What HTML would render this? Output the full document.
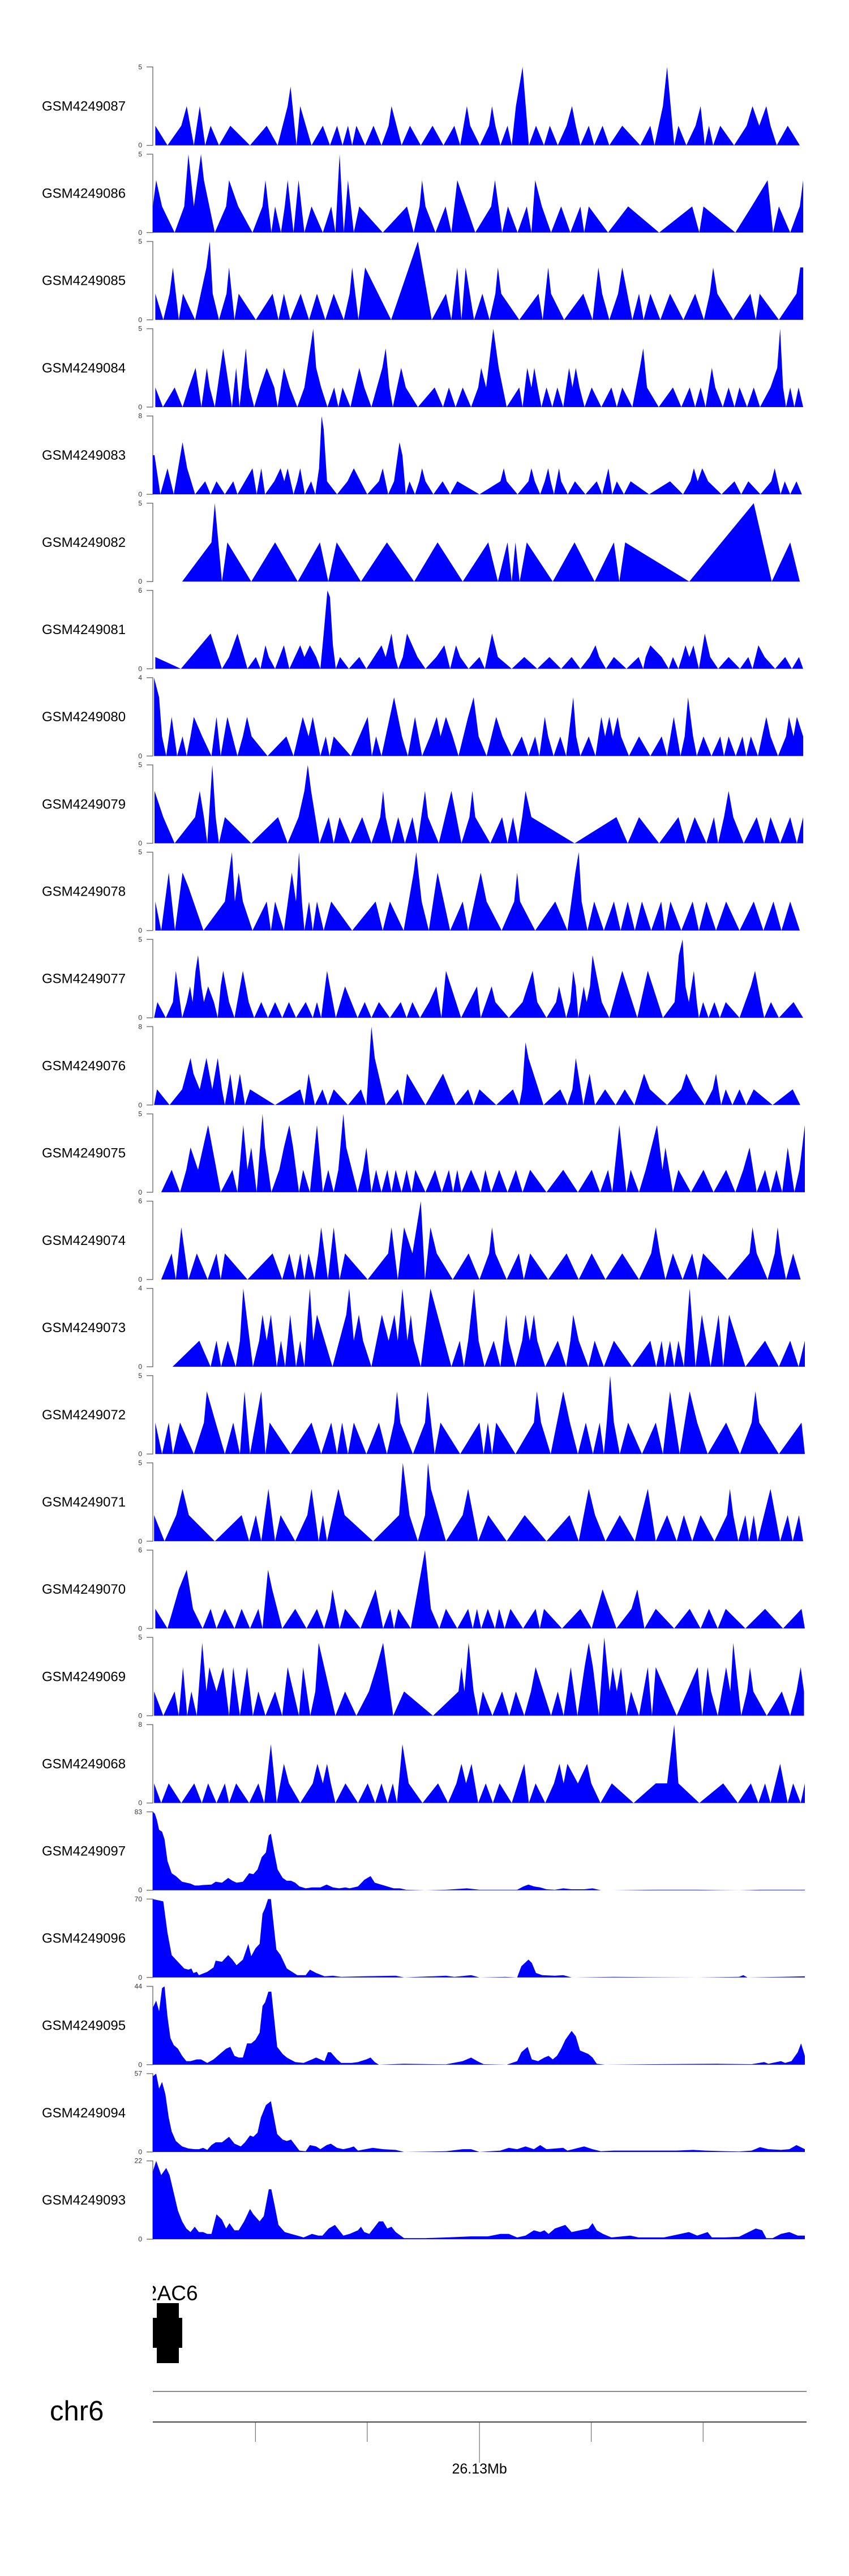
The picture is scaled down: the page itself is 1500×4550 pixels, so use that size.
<!DOCTYPE html>
<html><head><meta charset="utf-8"><title>Coverage tracks chr6</title>
<style>
html,body{margin:0;padding:0;background:#fff;}
svg{display:block;font-family:"Liberation Sans",sans-serif;}
</style></head>
<body>
<svg id="chart" width="1500" height="4550" viewBox="0 0 1500 4550" xmlns="http://www.w3.org/2000/svg">
<defs><clipPath id="plotclip"><rect x="270" y="0" width="1160" height="4550"/></clipPath></defs>
<g id="tracks"></g>
<g id="gene-track" clip-path="url(#plotclip)">
  <text x="257" y="4063" font-size="37" fill="#000">2AC6</text>
  <rect x="277" y="4068" width="39" height="106" fill="#000"/>
  <rect x="270" y="4094" width="52" height="53" fill="#000"/>
</g>
<g id="ideogram">
  <text x="88" y="4275" font-size="49" fill="#000">chr6</text>
  <line x1="270" y1="4224" x2="1425" y2="4224" stroke="#666" stroke-width="1.5"/>
  <line x1="270" y1="4278" x2="1425" y2="4278" stroke="#444" stroke-width="2"/>
  <g id="gticks"></g>
</g>
</svg>
<script>
const sampleNames = ["GSM4249087","GSM4249086","GSM4249085","GSM4249084","GSM4249083","GSM4249082","GSM4249081","GSM4249080","GSM4249079","GSM4249078","GSM4249077","GSM4249076","GSM4249075","GSM4249074","GSM4249073","GSM4249072","GSM4249071","GSM4249070","GSM4249069","GSM4249068","GSM4249097","GSM4249096","GSM4249095","GSM4249094","GSM4249093"];
const axisMax = [5,5,5,5,8,5,6,4,5,5,5,8,5,6,4,5,5,6,5,8,83,70,44,57,22];
const levelUnit = [1.25,1.67,1.67,1.25,1.33,2.5,0.9,1.0,1.67,1.85,1.0,1.6,1.43,2.0,1.33,2.0,1.67,1.5,1.55,2.0,1,1,1,1,1];
const genomeTickLabels = ["","","26.13Mb","",""];
const genomeTickPos = [245,512,780,1047,1314];

const t01=[6,1,35,0,68,1,81,2,98,0,112,2,125,0,138,1,158,0,185,1,232,0,272,1,298,0,322,2,329,3,343,0,352,2,379,0,406,1,423,0,440,1,453,0,466,1,476,0,486,1,507,0,527,1,546,0,563,1,570,2,594,0,614,1,640,0,668,1,694,0,720,1,734,0,750,2,758,1,781,0,803,1,810,2,818,1,830,0,847,1,857,0,867,2,883,4,898,0,915,1,934,0,948,1,967,0,988,1,1001,2,1010,1,1021,0,1041,1,1054,0,1074,1,1090,0,1121,1,1164,0,1188,1,1198,0,1218,2,1228,4,1245,0,1255,1,1274,0,1296,1,1308,2,1318,0,1328,1,1338,0,1355,1,1388,0,1418,1,1432,2,1448,1,1465,2,1475,1,1490,0,1516,1,1545,0];
const t02=[0,1,8,2,22,1,52,0,75,1,85,3,98,1,115,3,122,2,148,0,175,1,182,2,204,1,238,0,262,1,269,2,283,0,292,1,306,0,315,1,322,2,336,0,348,2,362,0,379,1,406,0,426,1,436,0,446,3,456,0,466,2,480,0,493,1,549,0,607,1,623,0,637,1,643,2,651,1,675,0,699,1,713,0,727,2,770,0,808,1,817,2,834,0,848,1,871,0,893,1,904,0,913,2,929,1,951,0,975,1,997,0,1021,1,1030,0,1041,1,1087,0,1135,1,1209,0,1288,1,1305,0,1315,1,1391,0,1430,1,1468,2,1481,0,1495,1,1522,0,1545,1,1553,2];
const t03=[6,1,25,0,40,1,48,2,62,0,72,1,101,0,128,2,136,3,143,1,158,0,176,1,182,2,195,0,205,1,246,0,286,1,300,0,313,1,328,0,353,1,373,0,392,1,412,0,432,1,456,0,470,1,476,2,491,0,507,2,569,0,633,3,666,0,700,1,713,0,727,2,737,0,747,2,767,0,787,1,804,0,818,1,824,2,832,1,875,0,921,1,931,0,944,2,951,1,982,0,1028,1,1050,0,1064,2,1073,1,1090,0,1111,1,1121,2,1145,0,1161,1,1172,0,1188,1,1212,0,1235,1,1267,0,1295,1,1316,0,1330,1,1338,2,1348,1,1386,0,1427,1,1440,0,1449,1,1495,0,1537,1,1546,2,1553,2];
const t04=[6,1,24,0,52,1,71,0,86,1,102,2,116,0,129,2,136,1,148,0,168,3,189,0,199,2,207,0,222,3,230,1,242,0,256,1,272,2,290,1,298,0,313,2,327,1,345,0,362,1,383,4,390,2,402,1,417,0,433,1,443,0,453,1,472,0,493,2,505,1,522,0,548,2,556,3,565,1,573,0,593,2,604,1,633,0,673,1,693,0,707,1,723,0,740,1,760,0,777,1,784,2,796,1,813,4,826,2,845,0,875,1,883,0,894,2,904,1,911,2,919,1,928,0,940,1,954,0,966,1,980,0,994,2,1002,1,1010,2,1019,1,1031,0,1048,1,1071,0,1095,1,1108,0,1121,1,1145,0,1163,2,1171,3,1180,1,1208,0,1242,1,1262,0,1282,1,1295,0,1308,1,1320,0,1335,2,1343,1,1361,0,1375,1,1389,0,1401,1,1419,0,1435,1,1450,0,1475,1,1491,2,1498,4,1505,1,1512,0,1522,1,1532,0,1542,1,1553,0];
const t05=[0,3,4,3,18,0,35,2,50,0,71,4,82,2,101,0,125,1,138,0,152,1,172,0,192,1,202,0,220,1,238,2,248,0,259,2,268,0,290,1,305,2,314,1,322,2,336,0,345,1,352,2,363,0,378,1,388,0,397,2,403,6,408,5,416,1,440,0,465,1,480,2,512,0,540,1,549,2,562,0,576,1,589,4,596,3,604,0,613,1,626,0,636,1,643,2,651,1,670,0,692,1,710,0,727,1,780,0,830,1,838,2,845,1,871,0,897,1,904,2,912,1,925,0,936,1,944,2,950,1,958,0,964,1,970,2,975,1,991,0,1008,1,1033,0,1060,1,1073,0,1088,2,1097,0,1108,1,1125,0,1141,1,1185,0,1235,1,1266,0,1284,1,1292,2,1301,1,1312,2,1326,1,1358,0,1389,1,1405,0,1422,1,1451,0,1477,1,1485,2,1499,0,1509,1,1522,0,1537,1,1550,0];
const t06=[70,0,140,1,148,2,165,0,178,1,235,0,292,1,346,0,399,1,419,0,439,1,497,0,559,1,624,0,680,1,740,0,801,1,824,0,847,1,857,0,866,1,876,0,893,1,955,0,1007,1,1055,0,1101,1,1114,0,1128,1,1281,0,1435,2,1478,0,1522,1,1545,0];
const t07=[6,1,67,0,138,3,165,0,182,1,202,3,226,0,246,1,257,0,269,2,277,1,292,0,313,2,326,0,352,2,362,1,375,2,390,1,400,0,408,3,417,6.7,423,6.1,430,2,437,0,447,1,468,0,493,1,510,0,528,1,546,2,556,1,570,3,578,1,586,0,597,1,607,3,632,1,651,0,677,1,696,2,710,0,724,2,734,1,754,0,780,1,793,0,810,3,824,1,857,0,887,1,918,0,947,1,975,0,1000,1,1021,0,1043,1,1057,2,1066,1,1082,0,1101,1,1131,0,1160,1,1171,0,1177,1,1188,2,1215,1,1232,0,1242,1,1255,0,1264,1,1272,2,1281,1,1291,2,1304,0,1318,3,1331,1,1350,0,1375,1,1402,0,1422,1,1432,0,1446,2,1461,1,1486,0,1510,1,1526,0,1543,1,1553,0];
const t08=[3,4,15,3,22,1,32,0,45,2,58,0,71,1,81,0,90,1,98,2,118,1,140,0,152,2,162,0,178,2,202,0,215,1,225,2,236,1,274,0,319,1,336,0,358,2,372,1,382,2,400,0,413,1,422,0,432,1,473,0,513,2,523,0,533,1,546,0,576,3,595,1,609,0,626,2,643,0,662,1,678,2,687,1,700,2,716,1,730,0,753,2,766,3,778,1,797,0,820,2,835,1,857,0,881,1,897,0,913,1,923,0,936,2,944,1,957,0,973,1,987,0,1004,3,1011,1,1021,0,1041,1,1057,0,1071,2,1080,1,1090,2,1099,1,1110,2,1118,1,1137,0,1161,1,1188,0,1215,1,1228,0,1244,2,1260,0,1270,1,1278,3,1290,1,1299,0,1315,1,1334,0,1355,1,1364,0,1375,1,1392,0,1408,1,1417,0,1428,1,1445,0,1465,2,1475,1,1493,0,1512,1,1519,2,1530,1,1538,2,1553,1];
const t09=[4,2,25,1,52,0,101,1,112,2,122,1,130,0,142,3,150,1,158,0,172,1,235,0,299,1,322,0,348,1,362,2,370,3,378,2,398,0,420,1,432,0,446,1,472,0,500,1,522,0,543,1,550,2,556,1,570,0,586,1,602,0,620,1,632,0,650,2,657,1,683,0,713,2,737,0,756,1,763,2,770,1,806,0,834,1,847,0,860,1,872,0,882,1,890,2,904,1,1007,0,1107,1,1134,0,1161,1,1209,0,1255,1,1272,0,1294,1,1322,0,1340,1,1350,0,1364,1,1375,2,1386,1,1411,0,1442,1,1460,0,1475,1,1498,0,1522,1,1538,0,1553,1];
const t10=[6,1,20,0,38,2,53,0,71,2,85,1.5,121,0,172,1,189,2.7,196,1,205,2,215,1,238,0,272,1,282,0,292,1,313,0,332,2,342,1,349,2.7,356,1,362,0,373,1,382,0,392,1,408,0,426,1,476,0,532,1,549,0,566,1,599,0,623,2,629,2.7,642,1,659,0,680,2,710,0,740,1,753,0,783,2,797,1,833,0,863,1,870,2,877,1,913,0,961,1,990,0,1009,2,1017,2.7,1024,1,1038,0,1054,1,1077,0,1101,1,1117,0,1134,1,1151,0,1168,1,1190,0,1214,1,1223,0,1236,1,1262,0,1289,1,1304,0,1322,1,1345,0,1369,1,1401,0,1435,1,1458,0,1482,1,1501,0,1522,1,1545,0];
const t11=[3,0,11,1,31,0,48,1,55,3,70,0,81,1,89,2,95,1,102,3,108,4,116,2,122,1,132,2,146,1,155,0,162,2,168,3,182,1,195,0,215,3,229,1,242,0,259,1,275,0,292,1,309,0,325,1,342,0,365,1,382,0,392,1,402,0,416,3,437,0,459,2,474,1,489,0,506,1,522,0,540,1,566,0,592,1,606,0,620,1,638,0,660,1,677,2,689,0,700,3,736,0,774,2,783,0,809,2,818,1,850,0,883,1,907,3,918,1,940,0,963,1,970,2,987,0,997,1,1004,3,1010,2,1016,0,1029,2,1036,1,1044,2,1050,4,1072,1,1090,0,1121,3,1157,0,1182,3,1218,0,1246,1,1256,4,1265,5,1272,2,1280,1,1292,3,1299,1,1304,0,1314,1,1327,0,1341,1,1354,0,1368,1,1401,0,1428,2,1438,3,1452,1,1460,0,1476,1,1495,0,1530,1,1553,0];
const t12=[3,0,10,1,40,0,70,1,80,2,90,3,97,2,112,1,128,3,142,1,155,3,165,1,172,0,185,2,195,0,208,2,220,0,232,1,292,0,352,1,362,0,372,2,387,0,405,1,418,0,432,1,466,0,497,1,510,0,522,5,530,3,556,0,585,1,597,0,607,2,651,0,693,2,723,0,753,1,766,0,780,1,820,0,860,1,875,0,882,1,890,4,897,3,933,0,973,1,990,0,1002,1,1010,3,1028,0,1043,2,1056,0,1080,1,1105,0,1127,1,1150,0,1173,2,1187,1,1228,0,1262,1,1274,2,1292,1,1318,0,1337,1,1345,2,1357,0,1368,1,1384,0,1401,1,1417,0,1435,1,1480,0,1528,1,1546,0];
const t13=[20,0,45,1,65,0,80,1,90,2,108,1,132,3,162,0,190,1,202,0,216,3,226,1,235,2,248,0,262,3.5,268,2,283,0,302,1,313,2,326,3,335,2,349,0,359,1,375,0,392,3,406,0,419,1,432,0,443,1,455,3.5,462,2,489,0,502,1,510,2,522,0,533,1,546,0,560,1,570,0,580,1,594,0,606,1,618,0,627,1,651,0,674,1,690,0,707,1,717,0,727,1,737,0,760,1,783,0,794,1,808,0,827,1,847,0,867,1,883,0,901,1,940,0,980,1,1015,0,1048,1,1068,0,1087,1,1097,0,1114,3,1131,0,1141,1,1161,0,1177,1,1204,3,1217,1,1224,2,1242,0,1255,1,1285,0,1315,1,1339,0,1369,1,1391,0,1410,1,1425,2,1442,0,1462,1,1475,0,1489,1,1503,0,1516,2,1532,0,1544,1,1557,3];
const t14=[20,0,45,1,55,0,68,2,85,0,105,1,131,0,152,1,162,0,172,1,226,0,286,1,309,0,326,1,340,0,352,1,362,0,372,1,386,0,395,1,402,2,418,0,432,2,446,0,459,1,513,0,562,1,570,2,585,0,600,2,620,1,640,3,650,0,663,2,678,1,716,0,754,1,780,0,803,1,810,2,818,1,845,0,874,1,886,0,901,1,944,0,988,1,1017,0,1048,1,1081,0,1121,1,1161,0,1190,1,1201,2,1211,1,1224,0,1242,1,1265,0,1288,1,1301,0,1314,1,1372,0,1425,1,1432,2,1442,1,1468,0,1485,1,1492,2,1500,1,1512,0,1529,1,1547,0];
const t15=[47,0,111,1,138,0,152,1,163,0,179,1,198,0,208,1,216,3,239,0,254,1,262,2,272,1,282,2,296,0,306,1,316,0,328,2,342,0,352,1,362,0,370,2,375,3,383,1,392,2,429,0,462,2,469,3,480,1,492,2,502,1,522,0,547,2,563,1,577,2,585,1,596,3,608,1,616,2,623,1,640,0,663,3,713,0,733,1,743,0,753,1,767,3,778,1,792,0,814,1,830,0,844,2,850,1,866,0,882,1,890,2,900,1,910,2,918,1,937,0,967,1,987,0,997,1,1004,2,1017,1,1040,0,1055,1,1077,0,1101,1,1144,0,1188,1,1202,0,1215,1,1223,0,1235,1,1245,0,1255,1,1268,0,1282,3,1296,0,1311,2,1332,0,1351,2,1362,0,1376,2,1415,0,1462,1,1495,0,1522,1,1542,0,1557,1];
const t16=[6,1,22,0,38,1,48,0,65,1,98,0,122,1,129,2,150,1,172,0,192,1,208,0,219,2,232,0,259,2,269,0,279,1,329,0,379,1,402,0,426,1,440,0,452,1,466,0,480,1,510,0,540,1,559,0,576,1,583,2,591,1,621,0,650,1,656,2,673,0,687,1,734,0,780,1,790,0,800,1,810,0,820,1,866,0,910,1,917,2,927,1,950,0,980,2,996,1,1015,0,1034,1,1051,0,1067,1,1077,0,1084,1,1092,2.5,1101,1,1115,0,1135,1,1168,0,1201,1,1218,0,1235,2,1258,0,1282,2,1300,1,1325,0,1369,1,1402,0,1430,1,1439,2,1448,1,1495,0,1549,1,1557,0];
const t17=[3,1,28,0,56,1,71,2,86,1,148,0,212,1,230,0,246,1,259,0,276,2,292,0,305,1,340,0,369,1,379,2,396,0,406,1,416,0,443,2,458,1,526,0,588,1,597,3,613,1,633,0,650,1,657,3,664,2,700,0,740,1,753,2,777,0,801,1,845,0,888,1,940,0,995,1,1017,0,1041,2,1056,1,1081,0,1115,1,1151,0,1182,2,1201,0,1228,1,1251,0,1268,1,1288,0,1308,1,1341,0,1371,1,1378,2,1386,1,1398,0,1415,1,1424,0,1435,1,1444,0,1475,2,1498,0,1516,1,1528,0,1543,1,1553,0];
const t18=[6,1,35,0,62,2,81,3,96,1,119,0,138,1,152,0,172,1,195,0,212,1,232,0,252,1,262,0,275,3,285,2,309,0,340,1,367,0,392,1,409,0,423,1,429,2,446,0,459,1,496,0,532,2,550,0,567,1,576,0,586,1,616,0,650,4,664,1,684,0,700,1,727,0,753,1,764,0,774,1,784,0,800,1,817,0,827,1,840,0,854,1,884,0,914,1,924,0,934,1,977,0,1021,1,1048,0,1074,2,1107,0,1143,1,1157,2,1174,0,1201,1,1245,0,1282,1,1308,0,1328,1,1349,0,1368,1,1415,0,1462,1,1505,0,1549,1,1557,0];
const t19=[3,1,25,0,52,1,62,0,72,2,82,0,92,1,105,0,118,3,128,1,135,2,152,1,168,2,182,0,192,2,208,0,225,2,239,0,252,1,269,0,292,1,309,0,322,2,349,0,359,2,376,0,388,1,396,3,436,0,459,1,486,0,516,1,534,2,550,3,574,0,600,1,669,0,730,1,737,2,744,1,754,3,766,1,777,0,788,1,811,0,834,1,851,0,867,1,887,0,903,1,914,2,951,0,967,1,981,0,998,2,1014,0,1031,2,1041,3,1051,2,1065,0,1078,3.3,1091,1,1098,2,1108,1,1118,2,1131,0,1142,1,1161,0,1182,2,1192,0,1201,2,1251,0,1301,2,1312,0,1325,2,1333,1,1349,0,1369,2,1379,1,1386,3,1405,0,1419,1,1426,2,1434,1,1466,0,1502,1,1522,0,1537,1,1547,2,1555,1];
const t20=[3,1,20,0,38,1,68,0,99,1,117,0,132,1,152,0,172,1,182,0,199,1,230,0,252,1,266,0,282,3,296,0,313,2,325,1,352,0,382,1,393,2,406,1,416,2,425,1,436,0,460,1,490,0,513,1,531,0,546,1,560,0,573,1,583,0,596,3,611,1,644,0,681,1,705,0,725,1,737,2,748,1,761,2,777,0,795,1,812,0,828,1,857,0,887,2,898,0,914,1,937,0,958,1,971,2,981,1,990,2,1015,1,1037,2,1047,1,1069,0,1096,1,1148,0,1201,1,1228,1,1245,4,1255,1,1305,0,1362,1,1397,0,1428,1,1446,0,1462,1,1475,0,1498,2,1516,0,1529,1,1547,0,1557,1];
const t21=[0,83,5,81,10,74,15,64,22,62,28,54,35,31,45,18,55,15,70,9,80,8,90,7,100,5,110,5,120,5.5,140,6,150,9,165,8,180,13,190,10,200,8,215,9,230,18,240,17,250,22,260,35,270,40,277,58,282,60,290,40,298,22,310,13,320,10,330,10,340,8,350,4,365,2,380,3,400,3,415,6,430,3,445,2,460,3,470,2,490,4,505,11,520,15,530,8,545,6,560,4,575,2,590,2,605,0.5,650,0,700,0.5,750,2,780,0.5,820,0.5,870,0.5,885,4,897,6,910,4,925,3,940,1,960,0.5,980,2,1000,1,1030,1,1050,2,1070,0,1100,0,1200,0.5,1300,0.5,1400,0,1450,0.5,1500,0.5,1557,0.5];
const t22=[0,70,25,68,35,40,45,20,55,16,65,12,75,8,85,7,92,8,97,4,105,5,110,2,130,5,145,9,150,15,165,14,180,20,190,16,200,11,215,16,228,30,235,19,245,26,255,30,262,57,268,62,275,70,282,70,295,25,305,20,320,8,345,2,365,2,375,7,390,4,410,1,430,1.5,450,0.5,500,1,580,1.5,600,0,700,1.5,720,0.5,760,2,780,0,840,0.5,870,0,880,10,897,16,905,13,915,4,930,2,960,1.5,980,2,1000,0,1100,0.5,1300,0,1400,0.5,1410,2,1420,0,1500,0.5,1557,1];
const t23=[0,32,8,36,15,30,22,43,28,44,35,27,42,15,50,11,60,9,70,5,80,2,90,2,105,3,115,3,130,1,145,3,160,6,175,9,185,10,195,5,205,4,215,4,225,12,235,12,245,14,255,18,262,33,268,35,276,41,283,41,297,10,310,6,320,4,340,1.5,360,1,380,3,390,4,400,3,410,2,418,7,425,7,440,3,450,1,475,1,490,1.5,510,3,520,4,530,1.5,540,0,600,0.5,700,0.2,740,2,760,4,775,2,790,0.3,845,0,870,2,880,7,895,10,905,3,920,2,935,4,945,5,955,3,965,5,975,9,985,14,1000,19,1010,16,1020,8,1040,6,1050,4,1060,0.5,1080,0,1200,0.3,1350,0.5,1430,0.3,1460,1.5,1470,0.5,1500,2,1510,1,1525,2,1540,7,1548,12,1557,5];
const t24=[0,55,8,57,15,46,22,51,30,42,38,25,45,15,55,8,70,4,85,2.5,100,2,110,2,120,3,130,1.5,140,5,150,7,165,7,182,11,195,6,210,4,220,7,232,12,240,11,250,14,258,25,270,34,282,37,297,13,310,9,320,8,330,9,340,5,350,1,365,0.5,375,5,390,4,400,2,415,5,425,6,440,3,455,2,470,3,480,4,490,1,525,3,550,2,580,1.5,600,0,700,0.5,740,2,760,2,780,0,830,1,850,3,870,2,890,4,910,2,925,5,940,2,980,3,990,1,1030,4,1050,2,1070,0.5,1100,1,1200,1,1250,1,1290,1.5,1320,1,1370,0.5,1400,0.3,1430,1,1450,3.5,1470,2,1500,1.5,1520,2,1537,5,1557,2];
const t25=[0,19,8,22,20,18,32,20,40,18,50,13,60,8,70,5,80,3,90,2,100,3.5,110,2,120,2,130,1.5,140,1.5,152,7,165,5.5,175,3,183,4.5,195,2.5,205,2.5,218,5,232,8.5,240,7,255,5,265,6.5,277,14,283,14,290,10,300,4,315,2,330,1.5,345,1,360,0.5,380,1.5,395,1,405,1,420,3,435,4,455,1,470,1.5,490,2.5,497,3.5,505,2,517,1.5,540,5,550,5,560,3,570,3.5,580,2,600,0.3,650,0.3,700,0.5,760,0.8,800,0.8,830,1.5,850,1.5,870,0.5,890,1,910,2.5,925,2,935,2.5,945,1.5,960,3,985,4,1000,2,1020,2.5,1040,3,1050,4.5,1060,2.5,1075,1.5,1095,0.5,1140,1,1160,0.5,1200,0.5,1220,0.5,1260,1.5,1280,2,1300,1,1325,2,1335,0.5,1365,0.5,1400,0.7,1440,3,1455,2.5,1465,0.3,1480,0.3,1500,1.5,1520,2,1540,1,1557,1];
const trackData=[t01,t02,t03,t04,t05,t06,t07,t08,t09,t10,t11,t12,t13,t14,t15,t16,t17,t18,t19,t20,t21,t22,t23,t24,t25];

const NS="http://www.w3.org/2000/svg";
const X0=270, X1=1422, DOM=1557, H=138.4, BASE0=256.7, PITCH=154.1;
function xs(v){return X0+(v/DOM)*(X1-X0);}
function mk(tag,attrs,parent){const e=document.createElementNS(NS,tag);for(const k in attrs)e.setAttribute(k,attrs[k]);parent.appendChild(e);return e;}
const tracksG=document.getElementById('tracks');
for(let i=0;i<sampleNames.length;i++){
  const base=BASE0+i*PITCH, top=base-H, mx=axisMax[i], u=levelUnit[i];
  const ys=v=>base-Math.min(v*u/mx,1)*H;
  const g=mk('g',{},tracksG);
  
  
  const lab=mk('text',{x:74,y:base-H/2+8,'font-size':24,fill:'#000'},g);
  
  
  lab.textContent=sampleNames[i];
  const ax=mk('path',{d:`M259,${top}H270V${base}H259`,fill:'none',stroke:'#777','stroke-width':1.5},g);
  
  
  const tt=mk('text',{x:251,y:top+4,'font-size':12,'text-anchor':'end',fill:'#333'},g);
  
  
  tt.textContent=String(mx);
  const tb=mk('text',{x:251,y:base+4,'font-size':12,'text-anchor':'end',fill:'#333'},g);
  
  
  tb.textContent='0';
  const d=trackData[i];
  let pts=[`${xs(d[0]).toFixed(1)},${base}`];
  for(let k=0;k<d.length;k+=2)pts.push(`${xs(d[k]).toFixed(1)},${ys(d[k+1]).toFixed(1)}`);
  pts.push(`${xs(d[d.length-2]).toFixed(1)},${base}`);
  const poly=mk('polygon',{points:pts.join(' '),fill:'#0000ff'},g);
  
  
}
const tg=document.getElementById('gticks');
for(let j=0;j<genomeTickPos.length;j++){
  const x=xs(genomeTickPos[j]);
  const long=genomeTickLabels[j]!=="";
  const ln=mk('line',{x1:x,y1:4278,x2:x,y2:long?4350:4313,stroke:'#555','stroke-width':1},tg);
  
  
  if(long){
    const t=mk('text',{x:x,y:4369,'font-size':25,'text-anchor':'middle',fill:'#000'},tg);
    
    
    t.textContent=genomeTickLabels[j];
  }
}
</script>
</body></html>
